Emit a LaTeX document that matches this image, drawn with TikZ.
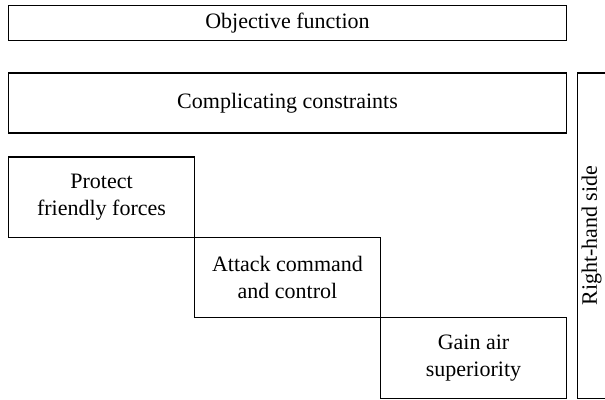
\documentclass[tikz,border=0pt]{standalone}
\usepackage{fontspec}
\setmainfont{Liberation Serif}
\usetikzlibrary{positioning}
\tikzset{
  block/.style={draw, line width=0.6pt, outer sep=0pt, align=center,
    inner sep=2pt, font=\fontsize{11}{13.5}\selectfont},
  wide/.style ={block, minimum width=279pt},
  task/.style ={block, minimum width=93pt, minimum height=40.2pt},
  rhs/.style  ={block, rotate=90, minimum width=162.6pt,
    minimum height=13.5pt}
}

\begin{document}
\begin{tikzpicture}
    \useasboundingbox (0,0) rectangle (302.5pt,200pt);

    % ---------- master problem rows ----------
    \node[wide, minimum height=17.5pt, anchor=north west] (objective)
      at (4.25pt,197.25pt) {Objective function};
    \node[wide, minimum height=30pt, below=16.25pt of objective]
      (constraints) {Complicating constraints};

    % ---------- block-diagonal subproblems ----------
    \node[task, below=12pt of constraints.south west, anchor=north west]
      (protect) {Protect\\friendly forces};
    \node[task, anchor=north west] (attack) at (protect.south east)
      {Attack command\\and control};
    \node[task, anchor=north west] (gain) at (attack.south east)
      {Gain air\\superiority};

    % right-hand side column (rotated, so north east is its top left)
    \node[rhs, anchor=north east] (rhside)
      at ([xshift=5.5pt]constraints.north east) {Right-hand side};
\end{tikzpicture}
\end{document}
